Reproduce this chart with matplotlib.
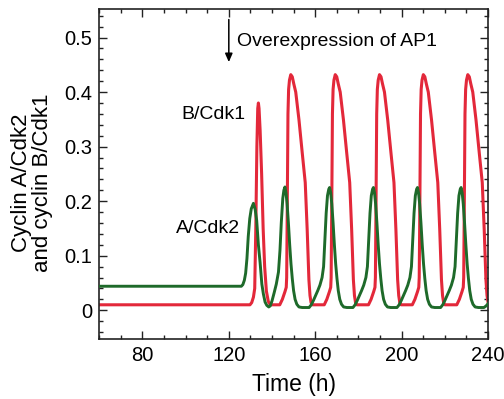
import matplotlib
matplotlib.use("Agg")
import matplotlib.pyplot as plt
from matplotlib.ticker import MultipleLocator, FuncFormatter

plt.rcParams['font.family'] = ['Liberation Sans', 'DejaVu Sans']

# Cyclin B/Cdk1 activity over time (h)
time_b = [60.0, 129.8, 130.6, 131.4, 132.0, 132.5, 133.0, 133.4, 133.7, 134.0,
          134.5, 135.2, 135.9, 136.6, 137.4, 138.3, 139.2,
          143.6, 144.8, 146.0, 146.6, 146.8, 147.1, 147.4, 147.7, 148.1, 148.7,
          149.4, 150.1, 151.0, 152.5, 154.0, 155.4, 156.3, 157.1, 157.6, 158.1, 158.7,
          164.2, 165.4, 166.6, 167.2, 167.4, 167.7, 168.0, 168.3, 168.7, 169.3,
          170.0, 170.7, 171.6, 173.1, 174.6, 176.0, 176.9, 177.7, 178.2, 178.7, 179.3,
          184.7, 185.9, 187.1, 187.7, 187.9, 188.2, 188.5, 188.8, 189.2, 189.8,
          190.5, 191.2, 192.1, 193.6, 195.1, 196.5, 197.4, 198.2, 198.7, 199.2, 199.8,
          205.0, 206.2, 207.4, 208.0, 208.2, 208.5, 208.8, 209.1, 209.5, 210.1,
          210.8, 211.5, 212.4, 213.9, 215.4, 216.8, 217.7, 218.5, 219.0, 219.5, 220.1,
          225.6, 226.8, 228.0, 228.6, 228.8, 229.1, 229.4, 229.7, 230.1, 230.7,
          231.4, 232.1, 233.0, 234.5, 236.0, 237.4, 238.3, 239.1, 239.6, 240.1, 240.7]
cyclin_b = [0.010, 0.010, 0.014, 0.024, 0.040, 0.150, 0.300, 0.370, 0.380, 0.370,
            0.330, 0.250, 0.150, 0.080, 0.035, 0.016, 0.010,
            0.010, 0.020, 0.034, 0.042, 0.060, 0.200, 0.360, 0.405, 0.422, 0.432,
            0.428, 0.415, 0.400, 0.349, 0.289, 0.234, 0.148, 0.056, 0.027, 0.014, 0.010,
            0.010, 0.020, 0.034, 0.042, 0.060, 0.200, 0.360, 0.405, 0.422, 0.432,
            0.428, 0.415, 0.400, 0.349, 0.289, 0.234, 0.148, 0.056, 0.027, 0.014, 0.010,
            0.010, 0.020, 0.034, 0.042, 0.060, 0.200, 0.360, 0.405, 0.422, 0.432,
            0.428, 0.415, 0.400, 0.349, 0.289, 0.234, 0.148, 0.056, 0.027, 0.014, 0.010,
            0.010, 0.020, 0.034, 0.042, 0.060, 0.200, 0.360, 0.405, 0.422, 0.432,
            0.428, 0.415, 0.400, 0.349, 0.289, 0.234, 0.148, 0.056, 0.027, 0.014, 0.010,
            0.010, 0.020, 0.034, 0.042, 0.060, 0.200, 0.360, 0.405, 0.422, 0.432,
            0.428, 0.415, 0.400, 0.349, 0.289, 0.234, 0.148, 0.056, 0.027, 0.014, 0.010]

# Cyclin A/Cdk2 activity over time (h)
time_a = [60.0, 125.8, 126.5, 127.2, 127.8, 128.4, 129.0, 129.7, 130.4, 131.4,
          132.2, 132.9, 133.7, 134.5, 135.3, 136.0, 136.8, 137.6, 138.5, 139.2,
          140.0, 141.0, 142.0, 143.0, 143.7, 144.3, 145.0, 145.5, 146.0,
          146.5, 147.0, 147.6, 148.2, 148.8, 149.4, 150.0, 150.7, 151.5, 152.5, 154.0,
          157.2, 158.2, 159.2, 160.2, 161.2, 162.2, 163.2, 163.9, 164.5, 165.1, 165.7, 166.3, 166.7,
          167.2, 167.7, 168.3, 168.9, 169.5, 170.1, 170.7, 171.4, 172.2, 173.2, 174.7,
          177.5, 178.5, 179.5, 180.5, 181.5, 182.5, 183.5, 184.2, 184.8, 185.4, 186.0, 186.6, 187.0,
          187.5, 188.0, 188.6, 189.2, 189.8, 190.4, 191.0, 191.7, 192.5, 193.5, 195.0,
          197.9, 198.9, 199.9, 200.9, 201.9, 202.9, 203.9, 204.6, 205.2, 205.8, 206.4, 207.0, 207.4,
          207.9, 208.4, 209.0, 209.6, 210.2, 210.8, 211.4, 212.1, 212.9, 213.9, 215.4,
          218.1, 219.1, 220.1, 221.1, 222.1, 223.1, 224.1, 224.8, 225.4, 226.0, 226.6, 227.2, 227.6,
          228.1, 228.6, 229.2, 229.8, 230.4, 231.0, 231.6, 232.3, 233.1, 234.1, 235.6,
          238.2, 239.2, 240.5]
cyclin_a = [0.044, 0.044, 0.047, 0.055, 0.068, 0.095, 0.135, 0.168, 0.186, 0.196,
            0.185, 0.165, 0.120, 0.087, 0.048, 0.030, 0.015, 0.009, 0.006, 0.008,
            0.017, 0.032, 0.048, 0.070, 0.110, 0.160, 0.205, 0.220, 0.226,
            0.215, 0.195, 0.160, 0.120, 0.085, 0.058, 0.036, 0.020, 0.011, 0.006, 0.005,
            0.005, 0.010, 0.018, 0.027, 0.036, 0.046, 0.060, 0.080, 0.130, 0.178, 0.210, 0.222, 0.225,
            0.215, 0.195, 0.160, 0.120, 0.085, 0.058, 0.036, 0.020, 0.011, 0.006, 0.005,
            0.005, 0.010, 0.018, 0.027, 0.036, 0.046, 0.060, 0.080, 0.130, 0.178, 0.210, 0.222, 0.225,
            0.215, 0.195, 0.160, 0.120, 0.085, 0.058, 0.036, 0.020, 0.011, 0.006, 0.005,
            0.005, 0.010, 0.018, 0.027, 0.036, 0.046, 0.060, 0.080, 0.130, 0.178, 0.210, 0.222, 0.225,
            0.215, 0.195, 0.160, 0.120, 0.085, 0.058, 0.036, 0.020, 0.011, 0.006, 0.005,
            0.005, 0.010, 0.018, 0.027, 0.036, 0.046, 0.060, 0.080, 0.130, 0.178, 0.210, 0.222, 0.225,
            0.215, 0.195, 0.160, 0.120, 0.085, 0.058, 0.036, 0.020, 0.011, 0.006, 0.005,
            0.005, 0.008, 0.014]

x_ticks = [80, 120, 160, 200, 240]
y_ticks = [0, 0.1, 0.2, 0.3, 0.4, 0.5]
overexpression_time = 120

fig = plt.figure(figsize=(5.04, 3.99), dpi=100)
ax = fig.add_axes([0.197, 0.150, 0.771, 0.827])

ax.plot(time_b, cyclin_b, color='#e3283a', lw=2.2, solid_joinstyle='round', zorder=2)
ax.plot(time_a, cyclin_a, color='#1e6a2a', lw=2.1, solid_joinstyle='round', zorder=3)

ax.set_xlim(60, 240)
ax.set_ylim(-0.053, 0.552)

ax.set_xticks(x_ticks)
ax.set_yticks(y_ticks)
ax.xaxis.set_minor_locator(MultipleLocator(10))
ax.yaxis.set_minor_locator(MultipleLocator(0.02))
ax.yaxis.set_major_formatter(FuncFormatter(lambda v, p: '0' if abs(v) < 1e-9 else f'{v:.1f}'))
ax.tick_params(which='both', direction='in', top=True, right=True, width=1.0, color='#222222')
ax.tick_params(which='major', length=6, labelsize=14.5, pad=5)
ax.tick_params(which='minor', length=3)
for s in ax.spines.values():
    s.set_linewidth(1.2)
    s.set_color('#222222')

ax.set_xlabel('Time (h)', fontsize=16.5, labelpad=6)
ax.set_ylabel('Cyclin A/Cdk2\nand cyclin B/Cdk1', fontsize=16, linespacing=1.0)
ax.yaxis.set_label_coords(-0.118, 0.473)

# arrow marking the onset of AP1 overexpression
ax.annotate('', xy=(overexpression_time, 0.455), xytext=(overexpression_time, 0.533),
            arrowprops=dict(arrowstyle='-|>,head_length=0.5,head_width=0.22',
                            color='black', lw=1.1, shrinkA=0, shrinkB=0))
ax.text(123.8, 0.492, 'Overexpression of AP1', fontsize=14, va='center', ha='left')

ax.text(127.5, 0.358, 'B/Cdk1', fontsize=14, va='center', ha='right')
ax.text(125.3, 0.150, 'A/Cdk2', fontsize=14, va='center', ha='right')

fig.savefig('out.png', dpi=100)
